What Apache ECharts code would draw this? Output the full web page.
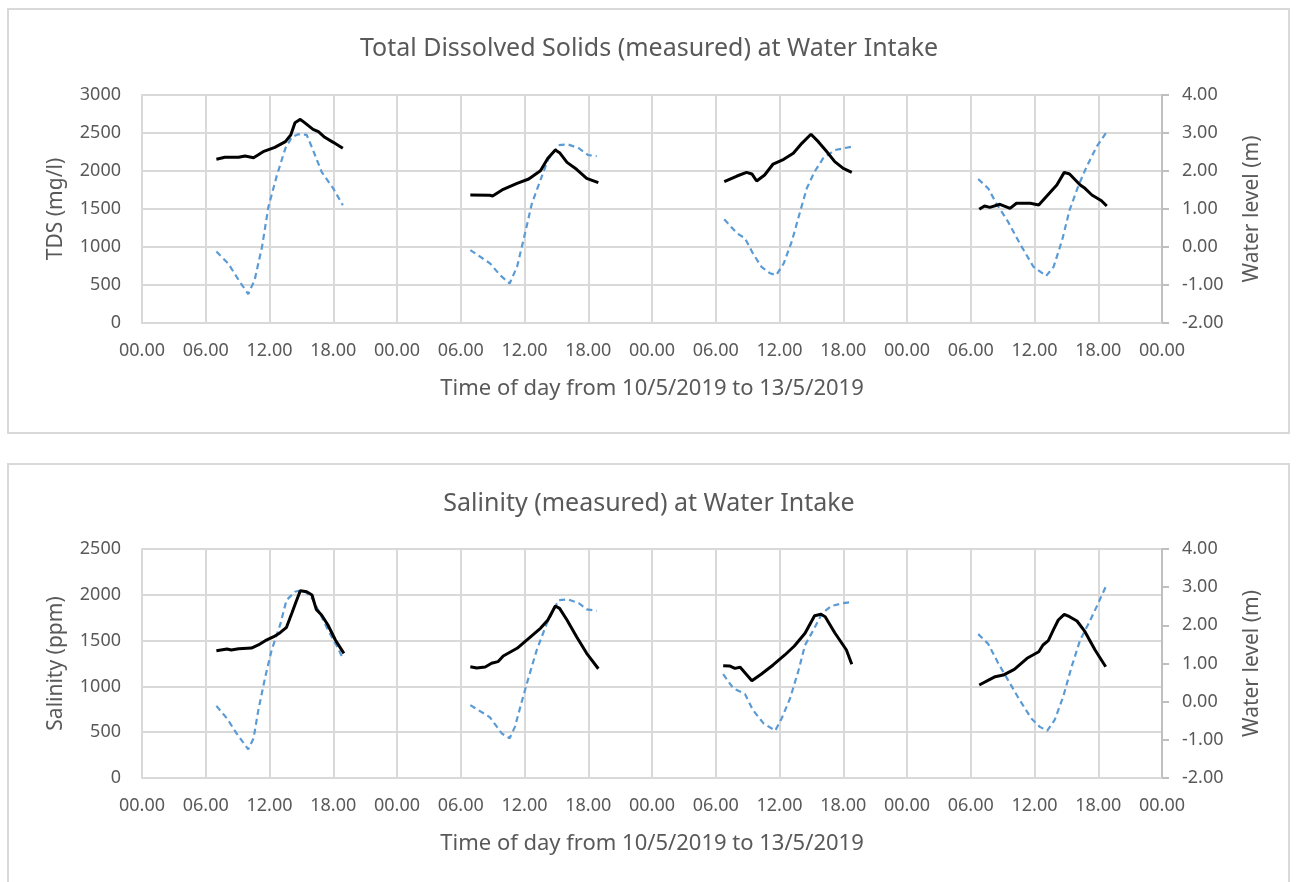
<!DOCTYPE html>
<html>
<head>
<meta charset="utf-8">
<script src="https://cdn.jsdelivr.net/npm/echarts@6/dist/echarts.min.js"></script>
<style>
  html, body { margin: 0; padding: 0; background: #fff; }
  #chart { position: absolute; left: 0; top: 0; width: 1298px; height: 882px; }
  .panel { position: absolute; left: 7px; width: 1283px; border: 2px solid #d9d9d9; box-sizing: border-box; }
</style>
</head>
<body>
<div class="panel" style="top:8px;height:426px;"></div>
<div class="panel" style="top:463px;height:440px;"></div>
<div id="chart"></div>
<script>
// ---- Data (hours counted from 10/5/2019 00:00) ----
const xTickHours = [0, 6, 12, 18, 24, 30, 36, 42, 48, 54, 60, 66, 72, 78, 84, 90, 96];

// TDS (mg/l), measured, four days
const tdsDay1 = [[7.0,2154],[7.8,2180],[9.1,2180],[9.7,2197],[10.5,2175],[11.4,2254],[12.5,2311],[13.5,2386],[14.0,2474],[14.4,2636],[14.9,2680],[15.3,2636],[16.1,2548],[16.6,2517],[17.2,2443],[18.0,2377],[18.9,2298]];
const tdsDay2 = [[30.9,1684],[32.75,1680],[33.0,1671],[34.0,1759],[35.3,1838],[36.4,1895],[37.5,2004],[38.2,2167],[38.9,2276],[39.3,2241],[40.0,2114],[40.9,2022],[41.85,1904],[42.95,1846]];
const tdsDay3 = [[54.8,1859],[56.0,1934],[56.9,1982],[57.4,1961],[57.85,1868],[58.6,1947],[59.4,2092],[60.4,2154],[61.3,2233],[62.1,2364],[62.96,2483],[63.65,2386],[64.4,2263],[65.2,2123],[66.0,2035],[66.8,1982]];
const tdsDay4 = [[78.8,1496],[79.3,1540],[79.8,1522],[80.75,1562],[81.7,1509],[82.3,1575],[83.6,1575],[84.4,1553],[85.1,1662],[86.1,1816],[86.8,1982],[87.3,1960],[88.3,1816],[88.75,1772],[89.4,1684],[90.3,1609],[90.8,1540]];

// Water level (m) during the TDS measurements
const levelTdsDay1 = [[7.0,-0.12],[8.1,-0.43],[9.1,-0.87],[10.0,-1.24],[10.6,-0.87],[11.3,0.01],[11.9,1.06],[12.7,1.89],[13.5,2.60],[14.1,2.89],[14.7,2.97],[15.5,2.95],[16.1,2.55],[16.9,1.98],[18.0,1.54],[18.9,1.10]];
const levelTdsDay2 = [[30.9,-0.08],[32.75,-0.43],[33.7,-0.74],[34.6,-0.96],[35.3,-0.52],[36.05,0.36],[36.7,1.15],[37.5,1.76],[38.2,2.29],[39.2,2.68],[40.1,2.70],[41.1,2.60],[42.0,2.42],[42.8,2.39]];
const levelTdsDay3 = [[54.8,0.73],[56.0,0.36],[56.75,0.23],[57.5,-0.17],[58.3,-0.52],[59.1,-0.69],[59.7,-0.74],[60.4,-0.43],[61.15,0.14],[61.9,0.89],[62.56,1.54],[63.3,1.98],[64.1,2.33],[65.2,2.55],[66.8,2.64]];
const levelTdsDay4 = [[78.7,1.79],[79.65,1.54],[80.4,1.15],[81.5,0.67],[82.6,0.10],[83.9,-0.52],[85.1,-0.76],[85.8,-0.52],[86.6,0.18],[87.3,0.97],[88.1,1.59],[88.9,2.11],[89.85,2.64],[90.8,3.03]];

// Salinity (ppm), measured, four days
const salDay1 = [[7.0,1390],[8.0,1408],[8.4,1397],[9.1,1412],[10.3,1419],[10.95,1452],[11.6,1499],[12.4,1543],[13.0,1586],[13.6,1645],[14.1,1798],[14.5,1925],[14.9,2045],[15.5,2034],[16.0,1998],[16.4,1841],[16.9,1780],[17.5,1670],[18.2,1507],[19.0,1361]];
const salDay2 = [[30.9,1215],[31.5,1201],[32.3,1212],[32.9,1252],[33.5,1270],[34.0,1332],[35.3,1416],[36.4,1525],[37.5,1634],[38.2,1725],[38.9,1878],[39.3,1852],[40.0,1725],[40.9,1543],[41.85,1361],[42.95,1193]];
const salDay3 = [[54.7,1226],[55.3,1223],[55.8,1197],[56.3,1208],[57.4,1062],[58.3,1135],[59.4,1234],[60.5,1343],[61.4,1441],[62.4,1580],[63.3,1772],[63.9,1787],[64.3,1761],[65.2,1586],[66.3,1397],[66.8,1241]];
const salDay4 = [[78.8,1015],[80.3,1106],[81.06,1124],[82.1,1186],[83.3,1307],[84.4,1379],[84.8,1452],[85.3,1499],[85.8,1623],[86.24,1725],[86.8,1787],[87.3,1761],[88.0,1714],[88.75,1597],[89.7,1397],[90.7,1215]];

// Water level (m) during the salinity measurements
const levelSalDay1 = [[7.0,-0.11],[8.0,-0.44],[8.9,-0.83],[10.0,-1.25],[10.5,-0.96],[10.95,-0.22],[11.6,0.65],[12.2,1.35],[13.0,2.01],[13.6,2.66],[14.4,2.88],[15.2,2.93],[16.0,2.71],[16.75,2.31],[17.5,1.88],[18.3,1.48],[18.95,1.11]];
const levelSalDay2 = [[30.9,-0.09],[32.75,-0.41],[33.85,-0.83],[34.6,-0.96],[35.1,-0.66],[35.7,-0.04],[36.4,0.65],[37.15,1.35],[38.1,2.05],[39.2,2.66],[40.1,2.68],[41.1,2.58],[41.85,2.42],[42.8,2.38]];
const levelSalDay3 = [[54.7,0.72],[55.65,0.35],[56.75,0.20],[57.5,-0.22],[58.5,-0.57],[59.6,-0.76],[60.2,-0.44],[61.0,0.09],[61.8,0.83],[62.4,1.48],[63.2,1.88],[64.0,2.31],[64.9,2.51],[66.0,2.58],[66.8,2.61]];
const levelSalDay4 = [[78.7,1.77],[79.65,1.51],[80.6,1.00],[81.5,0.57],[82.5,0.09],[83.7,-0.44],[84.5,-0.66],[85.2,-0.76],[85.9,-0.48],[86.7,0.13],[87.5,0.92],[88.3,1.62],[89.1,2.05],[89.85,2.49],[90.7,3.01]];

const titles = ['Total Dissolved Solids (measured) at Water Intake', 'Salinity (measured) at Water Intake'];
const leftNames = ['TDS (mg/l)', 'Salinity (ppm)'];
const rightName = 'Water level (m)';
const xName = 'Time of day from 10/5/2019 to 13/5/2019';

// join days with gaps
function joinDays(days) {
  const out = [];
  days.forEach((d, i) => { if (i > 0) out.push([null, null]); d.forEach(p => out.push(p)); });
  return out;
}

const FONT = 'Noto Sans';
const TXT = '#595959';
const GRID = '#d9d9d9';
const TICK = 18;
const NAME = 21;

const chart = echarts.init(document.getElementById('chart'));

const grids = [
  { left: 142, top: 95, width: 1020, height: 228 },
  { left: 142, top: 549, width: 1020, height: 229 }
];

function xAxis(gi) {
  return {
    type: 'value', gridIndex: gi, min: 0, max: 96, interval: 6,
    name: xName, nameLocation: 'middle', nameGap: 55,
    nameTextStyle: { color: TXT, fontFamily: FONT, fontSize: 22 },
    axisLine: { show: true, lineStyle: { color: GRID, width: 2 } },
    axisTick: { show: false },
    axisLabel: { color: TXT, fontFamily: FONT, fontSize: TICK, margin: 19,
      formatter: v => String(v % 24).padStart(2, '0') + '.00' },
    splitLine: { show: true, lineStyle: { color: GRID, width: 2 } }
  };
}
function leftAxis(gi, max) {
  return {
    type: 'value', gridIndex: gi, min: 0, max: max, interval: 500, position: 'left',
    name: leftNames[gi], nameLocation: 'middle', nameGap: 75, nameRotate: 90,
    nameTextStyle: { color: TXT, fontFamily: FONT, fontSize: NAME },
    axisLine: { show: true, lineStyle: { color: GRID, width: 2 } },
    axisTick: { show: false },
    axisLabel: { color: TXT, fontFamily: FONT, fontSize: TICK, margin: 21, formatter: v => String(v) },
    splitLine: { show: true, lineStyle: { color: GRID, width: 2 } }
  };
}
function rightAxis(gi) {
  return {
    type: 'value', gridIndex: gi, min: -2, max: 4, interval: 1, position: 'right',
    name: rightName, nameLocation: 'middle', nameGap: 80, nameRotate: 90,
    nameTextStyle: { color: TXT, fontFamily: FONT, fontSize: NAME },
    axisLine: { show: true, lineStyle: { color: '#bfbfbf', width: 2 } },
    axisTick: { show: true, length: 7, lineStyle: { color: '#bfbfbf', width: 2 } },
    axisLabel: { color: TXT, fontFamily: FONT, fontSize: TICK, margin: 20, formatter: v => v.toFixed(2) },
    splitLine: { show: false }
  };
}

const solid = { color: '#000000', width: 3 };
const dashed = { color: '#5b9bd5', width: 2.2, type: [6, 4] };

chart.setOption({
  animation: false,
  backgroundColor: 'transparent',
  title: titles.map((t, i) => ({
    text: t, left: 'center', top: i === 0 ? 31 : 486,
    textStyle: { color: TXT, fontFamily: FONT, fontSize: 25, fontWeight: 'normal' }
  })),
  grid: grids,
  xAxis: [xAxis(0), xAxis(1)],
  yAxis: [leftAxis(0, 3000), rightAxis(0), leftAxis(1, 2500), rightAxis(1)],
  series: [
    { type: 'line', xAxisIndex: 0, yAxisIndex: 0, data: joinDays([tdsDay1, tdsDay2, tdsDay3, tdsDay4]), showSymbol: false, symbol: 'none', lineStyle: solid, z: 3 },
    { type: 'line', xAxisIndex: 0, yAxisIndex: 1, data: joinDays([levelTdsDay1, levelTdsDay2, levelTdsDay3, levelTdsDay4]), showSymbol: false, symbol: 'none', lineStyle: dashed, z: 2 },
    { type: 'line', xAxisIndex: 1, yAxisIndex: 2, data: joinDays([salDay1, salDay2, salDay3, salDay4]), showSymbol: false, symbol: 'none', lineStyle: solid, z: 3 },
    { type: 'line', xAxisIndex: 1, yAxisIndex: 3, data: joinDays([levelSalDay1, levelSalDay2, levelSalDay3, levelSalDay4]), showSymbol: false, symbol: 'none', lineStyle: dashed, z: 2 }
  ]
});
</script>
</body>
</html>
